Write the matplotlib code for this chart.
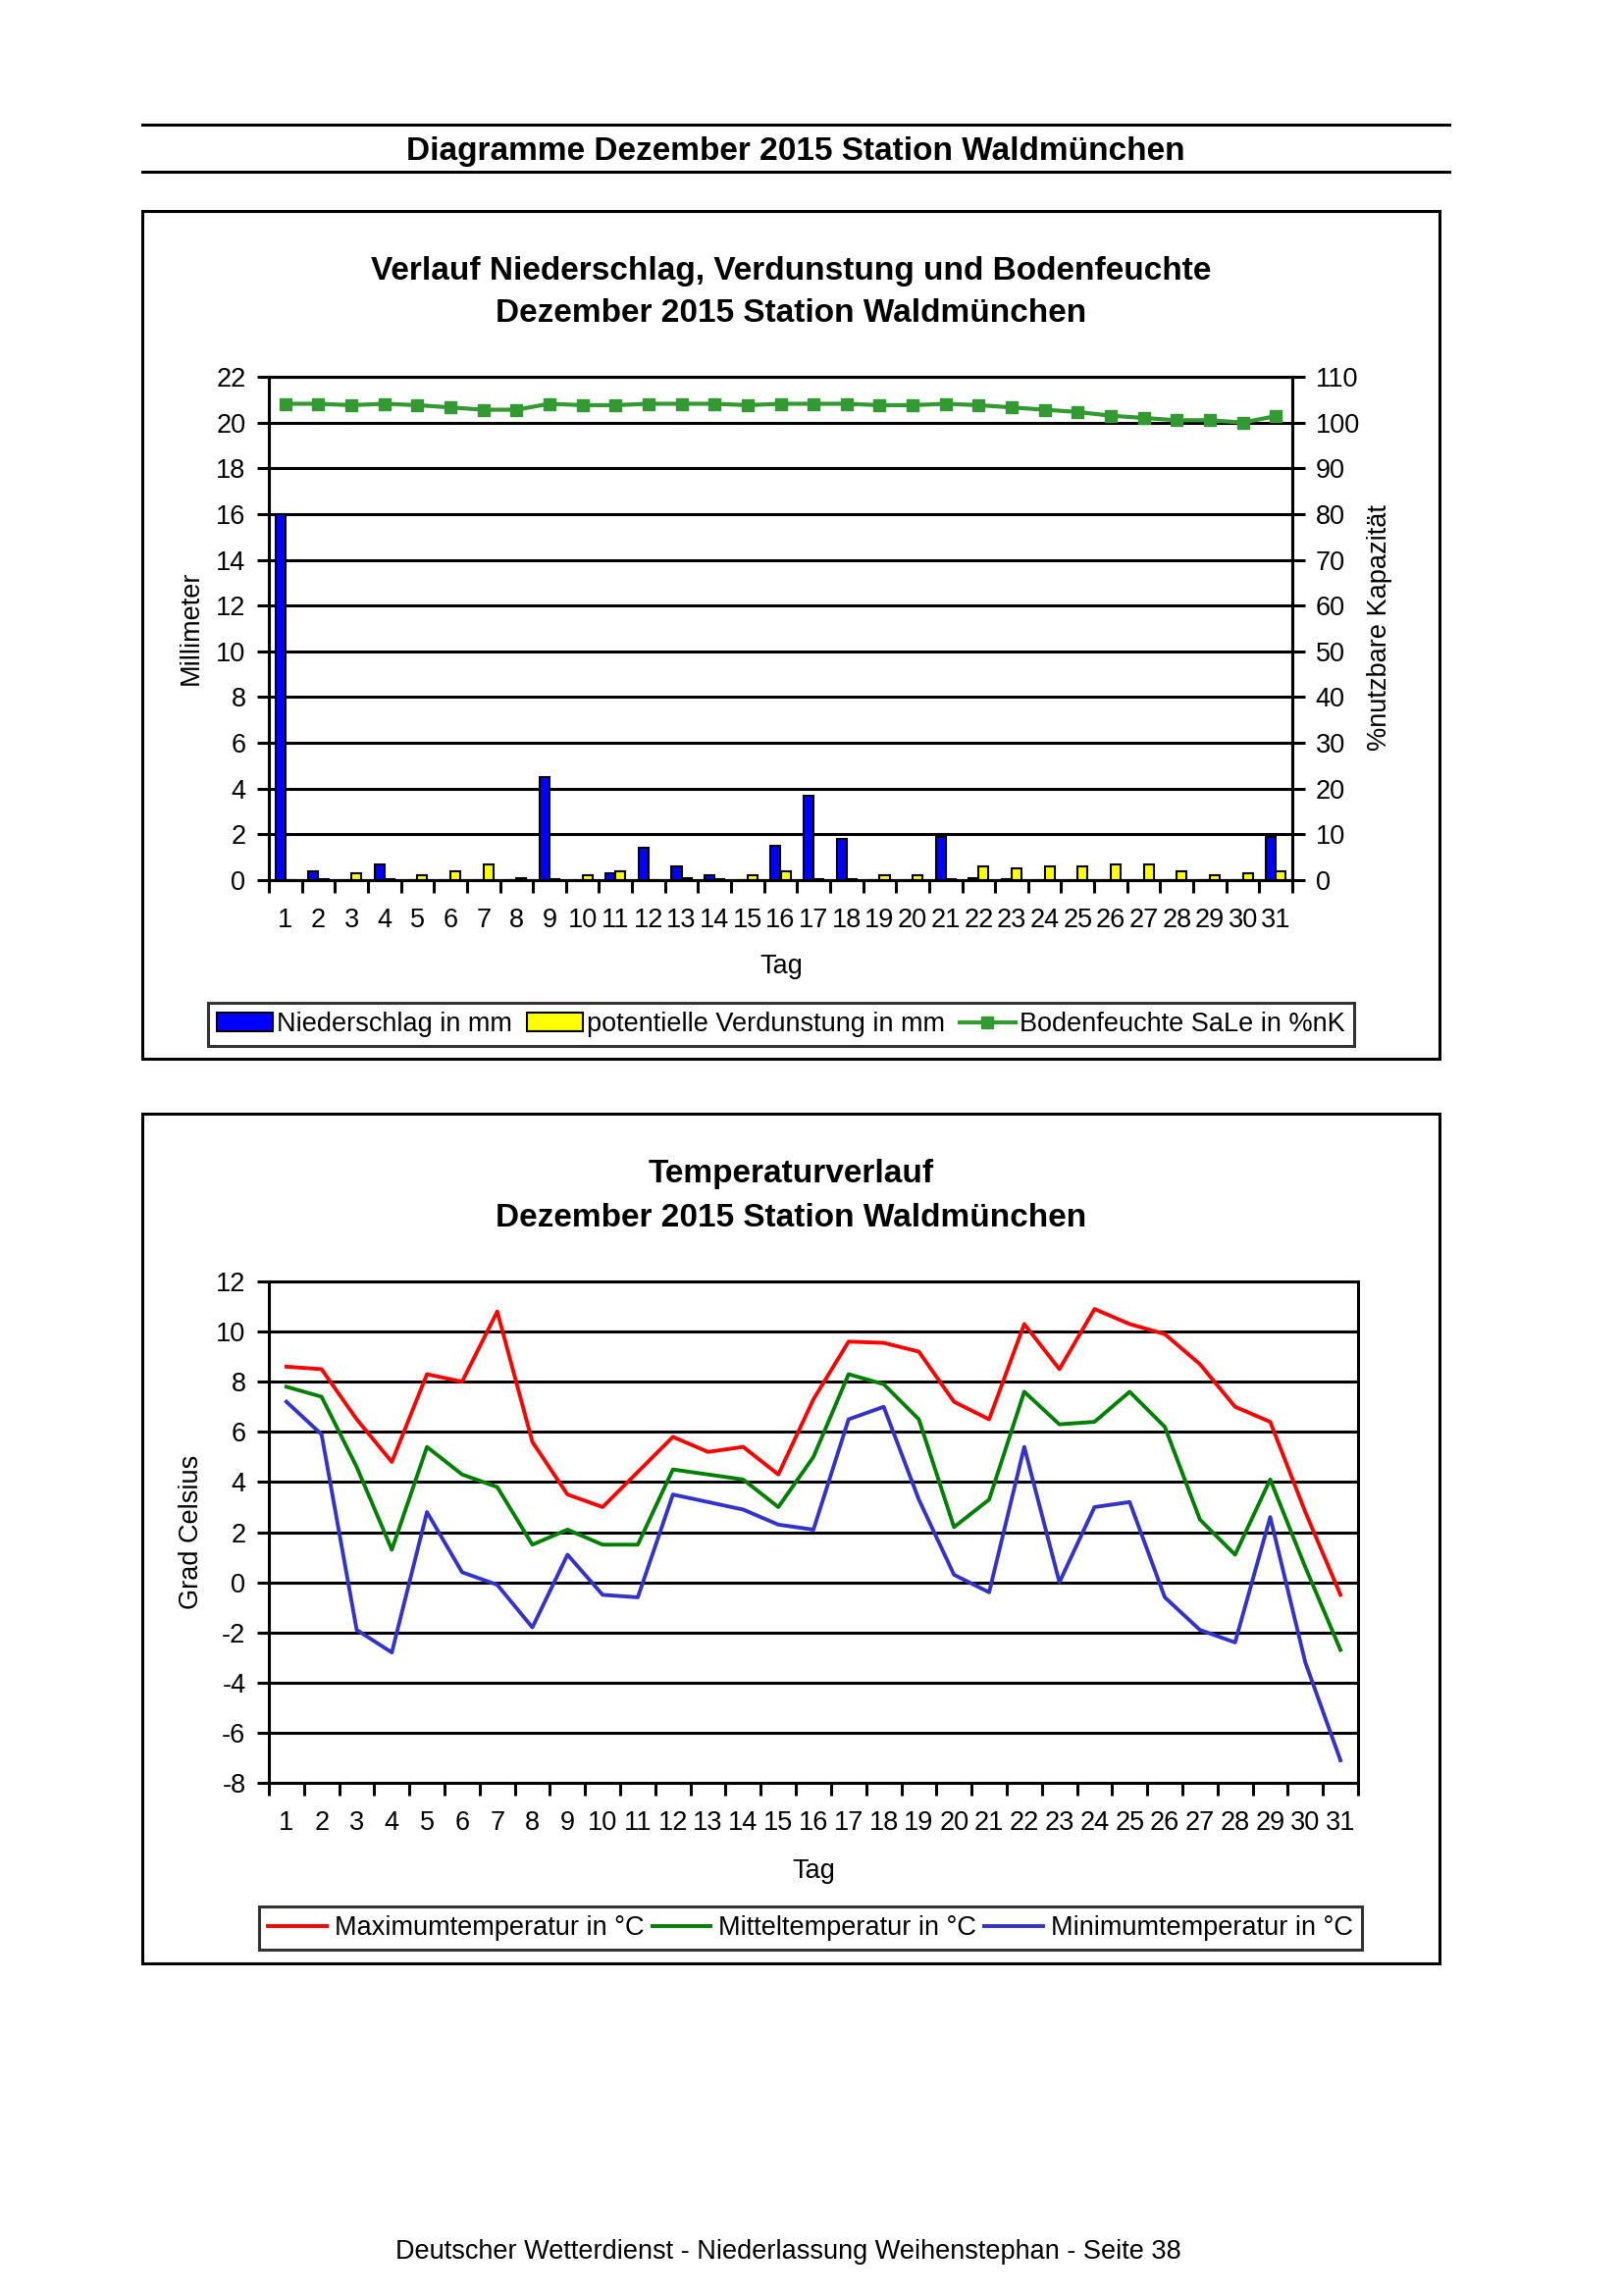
import matplotlib
matplotlib.use('Agg')
import matplotlib.pyplot as plt
from matplotlib.patches import Rectangle, Patch
from matplotlib.lines import Line2D
import numpy as np

plt.rcParams['font.family'] = ['Liberation Sans', 'DejaVu Sans']
plt.rcParams['axes.unicode_minus'] = False

# Daten Dezember 2015, Station Waldmünchen
tage = list(range(1, 32))
niederschlag = [16.0, 0.4, 0.0, 0.7, 0.0, 0.0, 0.0, 0.0, 4.5, 0.0, 0.3, 1.4, 0.6, 0.2, 0.0, 1.5,
                3.7, 1.8, 0.0, 0.0, 1.9, 0.1, 0.05, 0.0, 0.0, 0.0, 0.0, 0.0, 0.0, 0.0, 1.9]
verdunstung = [0.0, 0.05, 0.3, 0.05, 0.2, 0.4, 0.7, 0.1, 0.05, 0.2, 0.4, 0.0, 0.1, 0.05, 0.2, 0.4,
               0.05, 0.05, 0.2, 0.2, 0.05, 0.6, 0.5, 0.6, 0.6, 0.7, 0.7, 0.4, 0.2, 0.3, 0.4]
bodenfeuchte = [104.1, 104.1, 103.8, 104.1, 103.8, 103.3, 102.8, 102.8, 104.1, 103.8, 103.8, 104.1,
                104.1, 104.1, 103.8, 104.1, 104.1, 104.1, 103.8, 103.8, 104.1, 103.8, 103.3, 102.8,
                102.3, 101.5, 101.0, 100.5, 100.5, 100.0, 101.4]

tmax = [8.6, 8.5, 6.5, 4.8, 8.3, 8.0, 10.8, 5.6, 3.5, 3.0, 4.4, 5.8, 5.2, 5.4, 4.3, 7.3,
        9.6, 9.55, 9.2, 7.2, 6.5, 10.3, 8.5, 10.9, 10.3, 9.9, 8.7, 7.0, 6.4, 2.8, -0.5]
tmit = [7.8, 7.4, 4.6, 1.3, 5.4, 4.3, 3.8, 1.5, 2.1, 1.5, 1.5, 4.5, 4.3, 4.1, 3.0, 5.0,
        8.3, 7.9, 6.5, 2.2, 3.3, 7.6, 6.3, 6.4, 7.6, 6.2, 2.5, 1.1, 4.1, 0.6, -2.7]
tmin = [7.2, 5.9, -1.9, -2.8, 2.8, 0.4, -0.1, -1.8, 1.1, -0.5, -0.6, 3.5, 3.2, 2.9, 2.3, 2.1,
        6.5, 7.0, 3.3, 0.3, -0.4, 5.4, 0.0, 3.0, 3.2, -0.6, -1.9, -2.4, 2.6, -3.2, -7.1]

W, H = 1653, 2340
fig = plt.figure(figsize=(W / 100, H / 100), dpi=100)
fig.patch.set_facecolor('white')

FS = 19.5      # normale Schrift
FS_T = 24      # Titel


def fx(x):
    return x / W


def fy(y):
    return 1 - y / H


def rect(x0, y0, x1, y1):
    return [fx(x0), fy(y1), fx(x1) - fx(x0), fy(y0) - fy(y1)]


# Kopfzeile
for y in (127, 175):
    fig.add_artist(Line2D([fx(145), fx(1477)], [fy(y), fy(y)], color='black', lw=2.2))
fig.text(fx(811), fy(154), 'Diagramme Dezember 2015 Station Waldmünchen',
         ha='center', va='center', fontsize=FS_T, fontweight='bold')

# Rahmen der beiden Diagramme
for y0, y1 in ((215, 1079), (1135, 2001)):
    fig.add_artist(Rectangle((fx(145), fy(y1)), fx(1467) - fx(145), fy(y0) - fy(y1),
                             fill=False, edgecolor='black', lw=2.2))

x = np.arange(len(tage))


def achsen_stil(ax):
    ax.set_xlim(-0.5, 30.5)
    ax.set_xticks(np.arange(-0.5, 31, 1))
    ax.set_xticklabels([])
    ax.set_xticks(x, minor=True)
    ax.set_xticklabels([str(t) for t in tage], minor=True)
    ax.tick_params(axis='x', which='major', length=9, width=2.2, direction='out')
    ax.tick_params(axis='x', which='minor', length=0, pad=20, labelsize=FS)
    ax.tick_params(axis='y', length=9, width=2.2, pad=8, labelsize=FS)
    ax.grid(axis='y', color='black', lw=2.2, zorder=1)
    for s in ax.spines.values():
        s.set_linewidth(2.2)


# ---------- Diagramm 1: Niederschlag, Verdunstung, Bodenfeuchte ----------
fig.text(fx(806), fy(276), 'Verlauf Niederschlag, Verdunstung und Bodenfeuchte',
         ha='center', va='center', fontsize=FS_T, fontweight='bold')
fig.text(fx(806), fy(319), 'Dezember 2015 Station Waldmünchen',
         ha='center', va='center', fontsize=FS_T, fontweight='bold')

ax1 = fig.add_axes(rect(274, 384, 1317, 897))
ax1.bar(x - 0.15, niederschlag, width=0.3, color='#0000ff', edgecolor='black', lw=1.5, zorder=3)
ax1.bar(x + 0.15, verdunstung, width=0.3, color='#ffff00', edgecolor='black', lw=1.5, zorder=3)
ax1.set_ylim(0, 22)
ax1.set_yticks(range(0, 23, 2))
achsen_stil(ax1)

ax1r = ax1.twinx()
ax1r.plot(x, bodenfeuchte, color='#339933', lw=3, marker='s', markersize=8.5, zorder=4)
ax1r.set_ylim(0, 110)
ax1r.set_yticks(range(0, 111, 10))
ax1r.tick_params(axis='y', length=9, width=2.2, pad=8, labelsize=FS)
for s in ax1r.spines.values():
    s.set_linewidth(2.2)

fig.text(fx(195), fy(640), 'Millimeter', rotation=90, ha='center', va='center', fontsize=FS)
fig.text(fx(1406), fy(640), '%nutzbare Kapazität', rotation=90, ha='center', va='center', fontsize=FS)
fig.text(fx(796), fy(985), 'Tag', ha='center', va='center', fontsize=FS)

handles1 = [Patch(facecolor='#0000ff', edgecolor='black', lw=1.5),
            Patch(facecolor='#ffff00', edgecolor='black', lw=1.5),
            Line2D([], [], color='#339933', lw=3, marker='s', markersize=8.5)]
leg1 = fig.legend(handles1, ['Niederschlag in mm', 'potentielle Verdunstung in mm',
                             'Bodenfeuchte SaLe in %nK'],
                  loc='center', bbox_to_anchor=(fx(796), fy(1044)), ncol=3, fontsize=FS,
                  frameon=True, fancybox=False, edgecolor='black', borderpad=0.35,
                  handlelength=2.1, handletextpad=0.15, columnspacing=0.55)
leg1.get_frame().set_linewidth(2.2)

# ---------- Diagramm 2: Temperaturverlauf ----------
fig.text(fx(806), fy(1197), 'Temperaturverlauf',
         ha='center', va='center', fontsize=FS_T, fontweight='bold')
fig.text(fx(806), fy(1241), 'Dezember 2015 Station Waldmünchen',
         ha='center', va='center', fontsize=FS_T, fontweight='bold')

ax2 = fig.add_axes(rect(274, 1306, 1384, 1817))
ax2.plot(x, tmax, color='#ff0000', lw=2.8, zorder=3)
ax2.plot(x, tmit, color='#008000', lw=2.8, zorder=3)
ax2.plot(x, tmin, color='#3333cc', lw=2.8, zorder=3)
ax2.set_ylim(-8, 12)
ax2.set_yticks(range(-8, 13, 2))
achsen_stil(ax2)

fig.text(fx(195), fy(1561), 'Grad Celsius', rotation=90, ha='center', va='center', fontsize=FS)
fig.text(fx(829), fy(1907), 'Tag', ha='center', va='center', fontsize=FS)

handles2 = [Line2D([], [], color='#ff0000', lw=2.8),
            Line2D([], [], color='#008000', lw=2.8),
            Line2D([], [], color='#3333cc', lw=2.8)]
leg2 = fig.legend(handles2, ['Maximumtemperatur in °C', 'Mitteltemperatur in °C',
                             'Minimumtemperatur in °C'],
                  loc='center', bbox_to_anchor=(fx(826), fy(1965)), ncol=3, fontsize=FS,
                  frameon=True, fancybox=False, edgecolor='black', borderpad=0.35,
                  handlelength=2.2, handletextpad=0.3, columnspacing=0.3)
leg2.get_frame().set_linewidth(2.2)

# Fußzeile
fig.text(fx(803), fy(2295), 'Deutscher Wetterdienst - Niederlassung Weihenstephan - Seite 38',
         ha='center', va='center', fontsize=FS)

fig.savefig('out.png', dpi=100)
